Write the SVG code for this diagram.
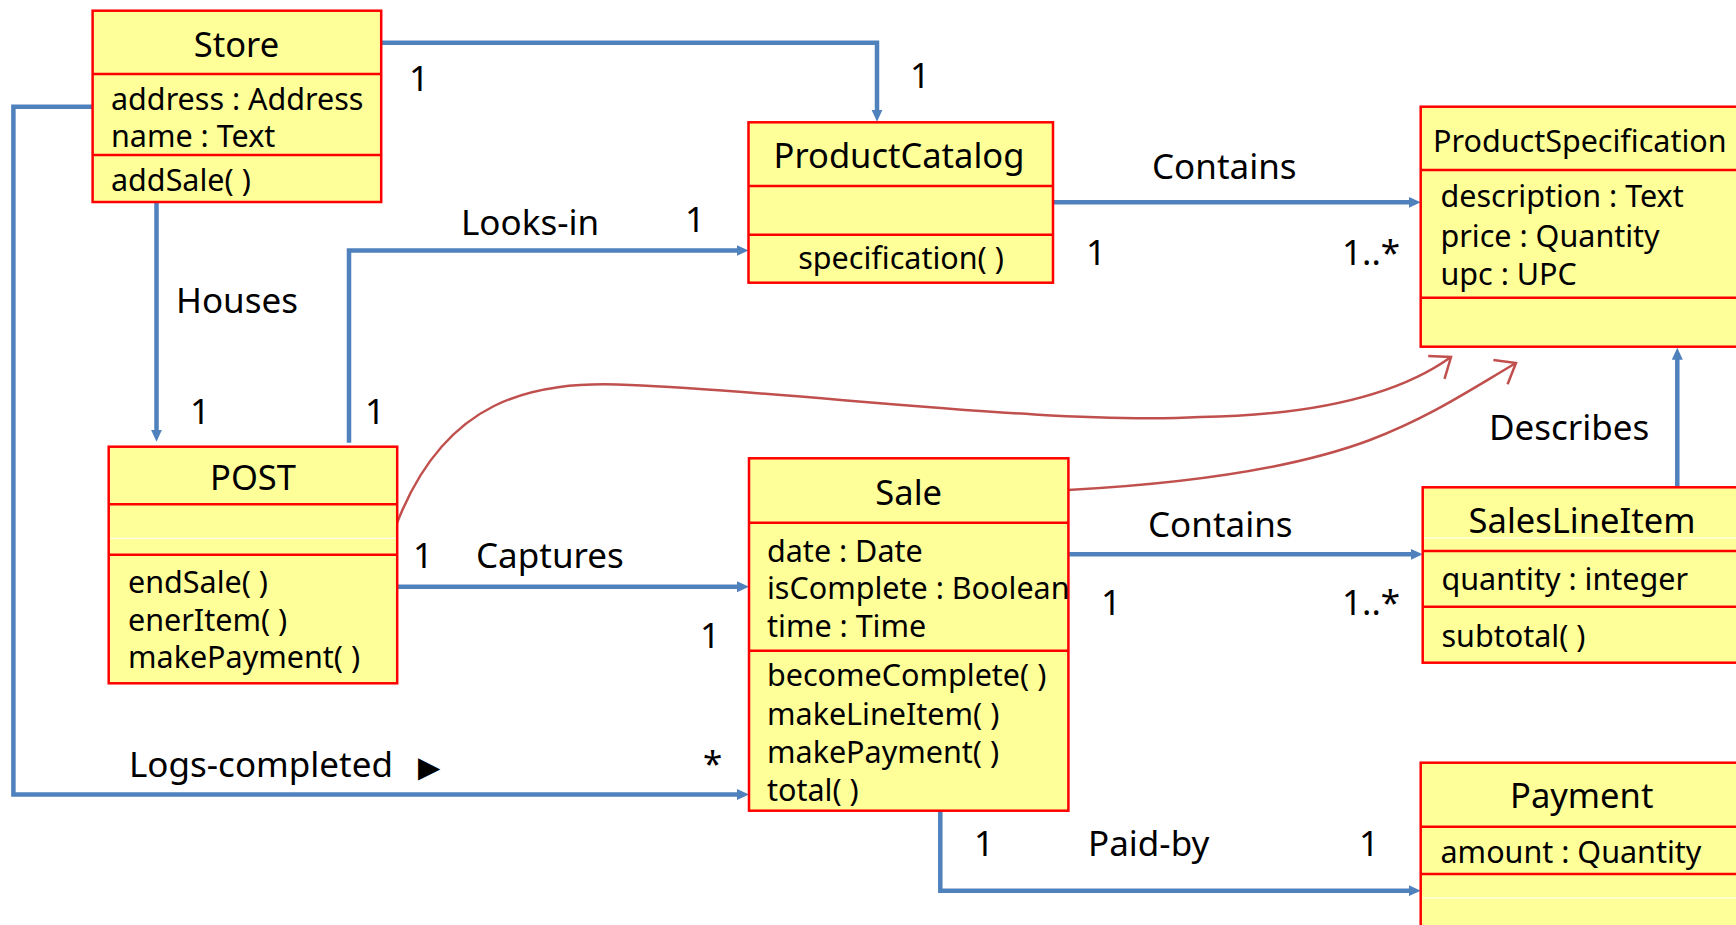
<svg xmlns="http://www.w3.org/2000/svg" width="1736" height="925" viewBox="0 0 1736 925">
<defs>
<style>
.box{fill:#FFFF99;stroke:#FF0000;stroke-width:2.5}
.dv{stroke:#FF0000;stroke-width:2.5}
.ws{stroke:#FFFFFF;stroke-width:1}
text{font-family:"Noto Sans","Open Sans","DejaVu Sans",sans-serif;fill:#000}
.t{font-size:34.5px;text-anchor:middle}
.a{font-size:30.5px}
.l{font-size:35px}
.c{fill:none;stroke:#4F81BD;stroke-width:4.5;stroke-linejoin:miter;marker-end:url(#ah)}
.r{fill:none;stroke:#C0504D;stroke-width:2.5;marker-end:url(#oh)}
</style>
<marker id="ah" markerUnits="userSpaceOnUse" viewBox="0 0 12 12" markerWidth="12" markerHeight="12" refX="4" refY="6" orient="auto">
<path d="M0,0.5 L12,6 L0,11.5 z" fill="#4F81BD"/>
</marker>
<marker id="oh" markerUnits="userSpaceOnUse" viewBox="-22 -16 24 32" markerWidth="24" markerHeight="32" refX="0" refY="0" orient="auto" overflow="visible">
<path d="M-18,-14 L0,0 L-18,14" fill="none" stroke="#C0504D" stroke-width="2.5"/>
</marker>
</defs>
<rect width="1736" height="925" fill="#FFFFFF"/>

<g id="connectors">
<path class="c" d="M381,42.7 H877 V113.7"/>
<path class="c" d="M92.6,106.7 H13.4 V794.5 H741"/>
<path class="c" d="M156.5,202 V433.7"/>
<path class="c" d="M349,442.7 V250.5 H740.5"/>
<path class="c" d="M1053,202.3 H1412.7"/>
<path class="c" d="M397,586.7 H741"/>
<path class="c" d="M1068.4,554.3 H1414.7"/>
<path class="c" d="M1677.3,487.3 V355.7"/>
<path class="c" d="M940.3,810.7 V890.7 H1412.7"/>
<path class="r" d="M397,523 C445,400 530,380 630,385 C800,392 1050,425 1200,417 C1330,415 1405,390 1451,357"/>
<path class="r" d="M1068,490 C1180,484 1290,470 1370,440 C1430,417 1470,390 1516,363"/>
</g>

<g id="labels">
<text class="l" x="409" y="90.7">1</text>
<text class="l" x="910" y="88">1</text>
<text class="l" x="176" y="313">Houses</text>
<text class="l" x="190" y="424">1</text>
<text class="l" x="365" y="424">1</text>
<text class="l" x="461" y="235">Looks-in</text>
<text class="l" x="685" y="231.7">1</text>
<text class="l" x="1152" y="179">Contains</text>
<text class="l" x="1086" y="265">1</text>
<text class="l" x="1342" y="265">1..*</text>
<text class="l" x="1489" y="440">Describes</text>
<text class="l" x="413" y="567.7">1</text>
<text class="l" x="476" y="567.7">Captures</text>
<text class="l" x="700" y="647.7">1</text>
<text class="l" x="1148" y="537.3">Contains</text>
<text class="l" x="1101" y="615">1</text>
<text class="l" x="1342" y="615">1..*</text>
<text class="l" x="129" y="776.7" font-size="36">Logs-completed <tspan x="418" font-family="DejaVu Sans" font-size="29">▶</tspan></text>
<text class="l" x="703" y="776">*</text>
<text class="l" x="974" y="856">1</text>
<text class="l" x="1088" y="856">Paid-by</text>
<text class="l" x="1359" y="856">1</text>
</g>

<g id="Store">
<rect class="box" x="92.6" y="10.7" width="288.6" height="191.3"/>
<line class="dv" x1="92.6" y1="74" x2="381.2" y2="74"/>
<line class="dv" x1="92.6" y1="155" x2="381.2" y2="155"/>
<text class="t" x="236.5" y="56.7">Store</text>
<text class="a" x="111" y="110">address : Address</text>
<text class="a" x="111" y="147">name : Text</text>
<text class="a" x="111" y="190.7">addSale( )</text>
</g>

<g id="ProductCatalog">
<rect class="box" x="748.5" y="122.3" width="304.5" height="160.4"/>
<line class="dv" x1="748.5" y1="186" x2="1053" y2="186"/>
<line class="dv" x1="748.5" y1="234.7" x2="1053" y2="234.7"/>
<text class="t" x="899" y="168">ProductCatalog</text>
<text class="a" x="901" y="269" text-anchor="middle">specification( )</text>
</g>

<g id="ProductSpecification">
<rect class="box" x="1420.7" y="106.7" width="330" height="240"/>
<line class="dv" x1="1420.7" y1="170" x2="1750" y2="170"/>
<line class="dv" x1="1420.7" y1="297.7" x2="1750" y2="297.7"/>
<text x="1433" y="151.7" font-size="30.5">ProductSpecification</text>
<text class="a" x="1440.5" y="207.3">description : Text</text>
<text class="a" x="1440.5" y="246.7">price : Quantity</text>
<text class="a" x="1440.5" y="285">upc : UPC</text>
</g>

<g id="POST">
<rect class="box" x="108.7" y="446.7" width="288.5" height="236.6"/>
<line class="dv" x1="108.7" y1="504.3" x2="397.2" y2="504.3"/>
<line class="ws" x1="110" y1="538.3" x2="396" y2="538.3"/>
<line class="dv" x1="108.7" y1="554.7" x2="397.2" y2="554.7"/>
<text class="t" x="253" y="490">POST</text>
<text class="a" x="128" y="593.3">endSale( )</text>
<text class="a" x="128" y="631">enerItem( )</text>
<text class="a" x="128" y="668.3">makePayment( )</text>
</g>

<g id="Sale">
<rect class="box" x="749" y="458.3" width="319.4" height="352.4"/>
<line class="dv" x1="749" y1="522.7" x2="1068.4" y2="522.7"/>
<line class="dv" x1="749" y1="650.7" x2="1068.4" y2="650.7"/>
<text class="t" x="908.7" y="505">Sale</text>
<text class="a" x="767" y="561.7">date : Date</text>
<text class="a" x="767" y="599">isComplete : Boolean</text>
<text class="a" x="767" y="636.7">time : Time</text>
<text class="a" x="767" y="685.7">becomeComplete( )</text>
<text class="a" x="767" y="725">makeLineItem( )</text>
<text class="a" x="767" y="763.3">makePayment( )</text>
<text class="a" x="767" y="800.7">total( )</text>
</g>

<g id="SalesLineItem">
<rect class="box" x="1422.7" y="487.3" width="330" height="175.4"/>
<line class="ws" x1="1424" y1="538" x2="1750" y2="538"/>
<line class="dv" x1="1422.7" y1="551" x2="1750" y2="551"/>
<line class="dv" x1="1422.7" y1="606.7" x2="1750" y2="606.7"/>
<text class="t" x="1582" y="533.3">SalesLineItem</text>
<text class="a" x="1441.5" y="590">quantity : integer</text>
<text class="a" x="1441.5" y="646.7">subtotal( )</text>
</g>

<g id="Payment">
<rect class="box" x="1420.7" y="762.7" width="330" height="180"/>
<line class="dv" x1="1420.7" y1="826.7" x2="1750" y2="826.7"/>
<line class="dv" x1="1420.7" y1="874" x2="1750" y2="874"/>
<line class="ws" x1="1422" y1="898" x2="1750" y2="898"/>
<text class="t" x="1581.7" y="808.3">Payment</text>
<text class="a" x="1440.5" y="862.7">amount : Quantity</text>
</g>
</svg>
